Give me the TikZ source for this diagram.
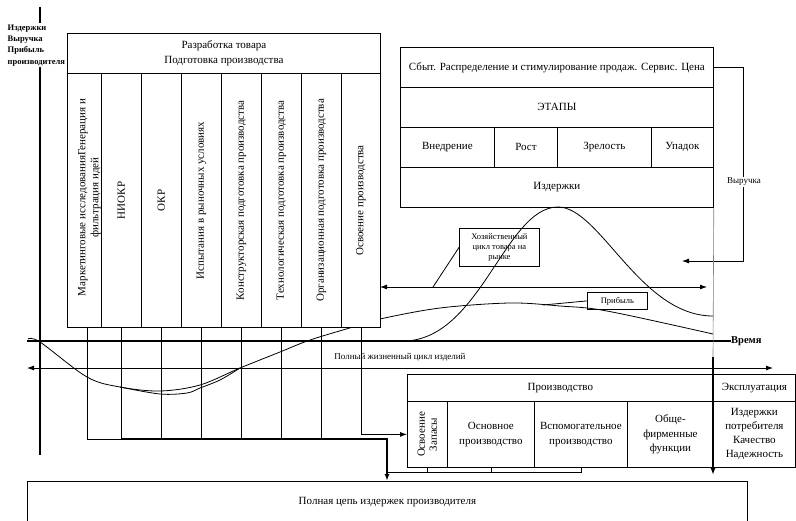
\documentclass[tikz,border=0pt]{standalone}
\usepackage{fontspec}
\setmainfont{Liberation Serif}
\usetikzlibrary{arrows.meta,calc}
\begin{document}
\begin{tikzpicture}[x=1pt,y=-1pt,
  font=\fontsize{11}{14.5}\selectfont,
  box/.style={draw, line width=0.8pt, inner sep=0pt, anchor=north west, align=center},
  wbox/.style={box, fill=white},
  vtext/.style={rotate=90, align=center, inner sep=0pt},
  line/.style={line width=0.8pt},
  heavy/.style={line width=2pt, line join=miter},
  tip/.style={-{Latex[length=7pt,width=5pt]}},
  twotip/.style={{Latex[length=7pt,width=5pt]}-{Latex[length=7pt,width=5pt]}},
  small/.style={font=\fontsize{8.5}{10}\selectfont},
  mid/.style={font=\fontsize{9}{11}\selectfont},
]
\useasboundingbox (0,0) rectangle (796,520);

% reference points
\coordinate (ytop) at (40,7);
\coordinate (ybot) at (40,455);
\coordinate (tl) at (27,341);
\coordinate (lcL) at (27,368);
\coordinate (lcR) at (773,368);
\coordinate (hzL) at (380,287);
\coordinate (hzR) at (707,287);
\coordinate (hzP) at (433,287);
\coordinate (pbP) at (543,305);
\coordinate (revT) at (682,261);
\coordinate (bus) at (387,439);
\coordinate (merge) at (387,472);
\coordinate (vt) at (713,357);
\coordinate (vend) at (713,475);

% axes
\draw[heavy] (ytop) -- (ybot);
\node[font=\bfseries\fontsize{10.5}{12}\selectfont, anchor=west, inner sep=0pt] (vr) at (731,341) {Время};
\draw[heavy] (tl) -- (vr.west);

% profit and cost curves
\draw[line] plot[smooth, tension=0.55] coordinates {(28,339) (40,342) (87,377) (120,387) (160,391) (200,385) (240,368) (280,352) (310,340) (353,327) (380,319) (440,308) (510,303) (560,306) (607,311) (713,334)};
\draw[line] plot[smooth, tension=0.55] coordinates {(120,387) (160,394) (187,393) (200,388) (220,380) (240,368)};

% product development block
\node[wbox, minimum width=313pt, minimum height=40pt] (hdr) at (67,33) {Разработка товара\\Подготовка производства};
\node[wbox, minimum width=34pt, minimum height=254pt] (c1) at (67,73) {};
\node[wbox, minimum width=40pt, minimum height=254pt] (c2) at (101,73) {};
\node[wbox, minimum width=40pt, minimum height=254pt] (c3) at (141,73) {};
\node[wbox, minimum width=40pt, minimum height=254pt] (c4) at (181,73) {};
\node[wbox, minimum width=40pt, minimum height=254pt] (c5) at (221,73) {};
\node[wbox, minimum width=40pt, minimum height=254pt] (c6) at (261,73) {};
\node[wbox, minimum width=40pt, minimum height=254pt] (c7) at (301,73) {};
\node[wbox, minimum width=39pt, minimum height=254pt] (c8) at (341,73) {};
\node[vtext, font=\fontsize{11}{13}\selectfont] (t1) at ($(c1.center)+(5,-3)$) {Маркетинговые исследованияГенерация и\\фильтрация идей};
\node[vtext] (t2) at (c2.center) {НИОКР};
\node[vtext] (t3) at (c3.center) {ОКР};
\node[vtext] (t4) at (c4.center) {Испытания в рыночных условиях};
\node[vtext] (t5) at (c5.center) {Конструкторская подготовка производства};
\node[vtext] (t6) at (c6.center) {Технологическая подготовка производства};
\node[vtext] (t7) at (c7.center) {Организационная подготовка производства};
\node[vtext] (t8) at (c8.center) {Освоение производства};

% vertical axis caption
\node[anchor=north west, fill=white, inner sep=1.5pt, align=left,
      font=\bfseries\fontsize{8.5}{11.3}\selectfont] (ylab) at (6,23)
      {Издержки\\Выручка\\Прибыль\\производителя};

% sales block
\node[wbox, minimum width=313pt, minimum height=40pt] (s1) at (400,47) {Сбыт. Распределение и стимулирование продаж. Сервис. Цена};
\node[wbox, minimum width=313pt, minimum height=40pt] (s2) at (400,87) {ЭТАПЫ};
\node[wbox, minimum width=94pt, minimum height=40pt] (s3a) at (400,127) {Внедрение};
\node[wbox, minimum width=63pt, minimum height=40pt] (s3b) at (494,127) {Рост};
\node[wbox, minimum width=94pt, minimum height=40pt] (s3c) at (557,127) {Зрелость};
\node[wbox, minimum width=62pt, minimum height=40pt] (s3d) at (651,127) {Упадок};
\node[wbox, minimum width=313pt, minimum height=40pt] (s4) at (400,167) {Издержки};

% revenue feedback
\draw[line, tip] (s1.east) -- ++(30,0) |- (revT);
\node[mid, fill=white, inner sep=1pt] (vy) at (744,182) {Выручка};

% market cycle
\node[box, small, minimum width=80pt, minimum height=38pt] (hz) at (459,228) {Хозяйственный\\цикл товара на\\рынке};
\draw[line, twotip] (hzL) -- (hzR);
\draw[line] (hz.west) -- (hzP);
\node[box, small, minimum width=60pt, minimum height=17pt] (pb) at (587,292) {Прибыль};
\draw[line] (pb.west) -- (pbP);

% sales curve
\draw[line] (403,341) .. controls (480,341) and (505,207) .. (558,207)
            .. controls (600,207) and (640,316) .. (713,316);

% boundary of the market stage
\draw[gray, line width=0.6pt] (s4.south east) -- (vt);

% full life cycle
\draw[line, twotip] (lcL) -- (lcR);
\node[mid, inner sep=1pt] (pl) at (400,357) {Полный жизненный цикл изделий};

% production block
\node[wbox, minimum width=306pt, minimum height=27pt] (pr) at (407,374) {Производство};
\node[wbox, minimum width=82pt, minimum height=27pt] (ex) at (713,374) {Эксплуатация};
\node[wbox, minimum width=40pt, minimum height=66pt] (p1) at (407,401) {};
\node[vtext, font=\fontsize{11}{12}\selectfont] (p1t) at (p1.center) {Освоение\\Запасы};
\node[wbox, minimum width=87pt, minimum height=66pt] (p2) at (447,401) {Основное\\производство};
\node[wbox, minimum width=93pt, minimum height=66pt] (p3) at (534,401) {Вспомогательное\\производство};
\node[wbox, minimum width=86pt, minimum height=66pt] (p4) at (627,401) {Обще-\\фирменные\\функции};
\node[wbox, minimum width=82pt, minimum height=66pt, font=\fontsize{11}{14}\selectfont] (p5) at (713,401) {Издержки\\потребителя\\Качество\\Надежность};
\draw[line width=1.4pt, tip] (vt) -- (vend);

% full producer cost chain
\node[box, minimum width=720pt, minimum height=41pt] (full) at (27,481) {Полная цепь издержек производителя};

% collecting lines
\draw[line] (c2.south) -- (c2.south |- bus);
\draw[line] (c3.south) -- (c3.south |- bus);
\draw[line] (c4.south) -- (c4.south |- bus);
\draw[line] (c5.south) -- (c5.south |- bus);
\draw[line] (c6.south) -- (c6.south |- bus);
\draw[line] (c7.south) -- (c7.south |- bus);
\draw[line] ([xshift=3pt]c1.south) -- ([xshift=3pt]c1.south |- bus) -- (c2.south |- bus);
\draw[heavy, tip] (c2.south |- bus) -- (bus) -- (bus |- full.north);
\draw[line, tip] (c8.south) |- (p1.west);
\draw[line] (p3.south) |- (merge);
\draw[line] (p1.south) -- (p1.south |- merge);
\draw[line] (p2.south) -- (p2.south |- merge);
\end{tikzpicture}
\end{document}
